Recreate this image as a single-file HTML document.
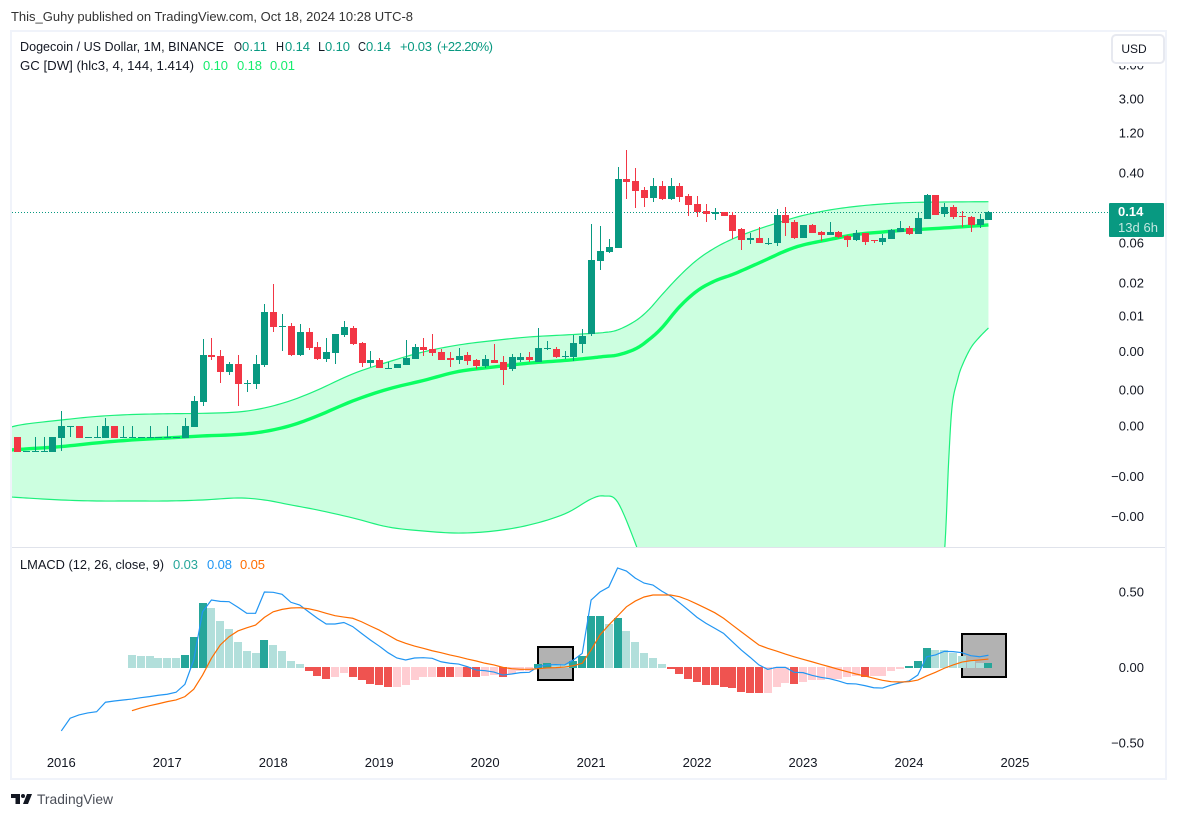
<!DOCTYPE html>
<html lang="en">
<head>
<meta charset="utf-8">
<title>Dogecoin / US Dollar chart</title>
<style>
html,body{margin:0;padding:0;background:#fff;width:1178px;height:818px;overflow:hidden}
svg{display:block}
text{font-family:"Liberation Sans","DejaVu Sans",sans-serif;font-size:13px;fill:#131722}
</style>
</head>
<body>
<svg id="chart" width="1178" height="818" viewBox="0 0 1178 818" xmlns="http://www.w3.org/2000/svg">
  <defs>
    <clipPath id="main-clip"><rect x="12" y="32" width="1153" height="515"/></clipPath>
    <clipPath id="macd-clip"><rect x="12" y="548" width="1153" height="205"/></clipPath>
  </defs>
  <rect x="0" y="0" width="1178" height="818" fill="#ffffff"/>
  <text x="11" y="21" textLength="402" lengthAdjust="spacingAndGlyphs" fill="#333333" style="fill:#333">This_Guhy published on TradingView.com, Oct 18, 2024 10:28 UTC-8</text>

  <g id="main-layer" clip-path="url(#main-clip)"></g>
  <g id="macd-layer" clip-path="url(#macd-clip)"></g>
  <line x1="12" y1="547.5" x2="1165" y2="547.5" stroke="#e0e3eb" stroke-width="1"/>
  <g id="axis-layer"></g>

  <rect x="11" y="31" width="1155" height="748" fill="none" stroke="#f0f3fa" stroke-width="2"/>

  <g>
    <text x="20" y="51" textLength="204" lengthAdjust="spacingAndGlyphs">Dogecoin / US Dollar, 1M, BINANCE</text>
    <text x="234" y="51" textLength="8" lengthAdjust="spacingAndGlyphs">O</text>
    <text x="242" y="51" textLength="25" style="fill:#089981">0.11</text>
    <text x="276" y="51" textLength="8" lengthAdjust="spacingAndGlyphs">H</text>
    <text x="285" y="51" textLength="25" style="fill:#089981">0.14</text>
    <text x="318" y="51" textLength="7" lengthAdjust="spacingAndGlyphs">L</text>
    <text x="325" y="51" textLength="25" style="fill:#089981">0.10</text>
    <text x="358" y="51" textLength="8" lengthAdjust="spacingAndGlyphs">C</text>
    <text x="366" y="51" textLength="25" style="fill:#089981">0.14</text>
    <text x="400" y="51" textLength="32" style="fill:#089981">+0.03</text>
    <text x="437" y="51" textLength="56" style="fill:#089981">(+22.20%)</text>
    <text x="20" y="70" textLength="174" lengthAdjust="spacingAndGlyphs">GC [DW] (hlc3, 4, 144, 1.414)</text>
    <text x="203" y="70" textLength="25" style="fill:#14ec6c">0.10</text>
    <text x="237" y="70" textLength="25" style="fill:#14ec6c">0.18</text>
    <text x="270" y="70" textLength="25" style="fill:#14ec6c">0.01</text>
  </g>
  <g>
    <text x="20" y="569" textLength="144" lengthAdjust="spacingAndGlyphs">LMACD (12, 26, close, 9)</text>
    <text x="173" y="569" textLength="25" style="fill:#26a69a">0.03</text>
    <text x="207" y="569" textLength="25" style="fill:#2196f3">0.08</text>
    <text x="240" y="569" textLength="25" style="fill:#ff6d00">0.05</text>
  </g>

  <g>
    <rect x="1111" y="33" width="54" height="33" fill="#ffffff"/>
    <rect x="1112" y="35" width="52" height="28" rx="4" fill="#ffffff" stroke="#e7e9f0" stroke-width="2"/>
    <text x="1134" y="53" text-anchor="middle" font-size="12" style="font-size:12px">USD</text>
  </g>

  <g>
    <rect x="1109" y="203" width="55" height="34" rx="1" fill="#089981"/>
    <text x="1118" y="216" font-weight="bold" style="fill:#ffffff;font-weight:bold">0.14</text>
    <text x="1118" y="232" textLength="40" style="fill:#c5e8e2">13d 6h</text>
  </g>

  <g>
    <path d="M11 794h9v10h-4.500v-6h-4.500z" fill="#131722"/>
    <circle cx="23" cy="796" r="2" fill="#131722"/>
    <path d="M27 794h5l-4 10h-5z" fill="#131722"/>
    <text x="37" y="804" textLength="76" lengthAdjust="spacingAndGlyphs" style="font-size:14px;fill:#4a4e57">TradingView</text>
  </g>

<script>
// ---------- price chart data (monthly, USD) ----------
const candleFirstMonth = -5; // months relative to Jan 2016
const candleOpen = [.000310,.000212,.000212,.000212,.000206,.000302,.000418,.000418,.000310,.000310,.000302,.000418,.000310,.000310,.000310,.000310,.000310,.000310,.000310,.000302,.000407,.000803,.00288,.00281,.00182,.00225,.00135,.00131,.00219,.00926,.00633,.00633,.00288,.00538,.00358,.00258,.00304,.00496,.00600,.00399,.00231,.00251,.00202,.00202,.00219,.00258,.00358,.00339,.00313,.00266,.00251,.00288,.00251,.00213,.00251,.00238,.00197,.00251,.00273,.00238,.00349,.00339,.00281,.00273,.00388,.00510,.0371,.0473,.0527,.3437,.3255,.2550,.2053,.2843,.1997,.2843,.2168,.1743,.1441,.1329,.1403,.1293,.0883,.0655,.0692,.0604,.0604,.1293,.1068,.0692,.0985,.0814,.0751,.0814,.0731,.0655,.0793,.0655,.0620,.0673,.0814,.0908,.0771,.1160,.2226,.1329,.1607,.1259,.1225,.0985,.1128];
const candleHigh = [.000310,.000212,.000310,.000310,.000310,.000629,.000418,.000418,.000310,.000418,.000520,.000418,.000418,.000418,.000310,.000418,.000310,.000418,.000310,.000520,.000944,.00445,.00457,.00330,.00238,.00288,.00146,.00288,.01152,.0198,.00877,.00687,.00668,.00600,.00410,.00457,.00510,.00725,.00633,.00410,.00321,.00266,.00238,.00225,.00433,.00388,.00457,.00510,.00339,.00313,.00349,.00313,.00258,.00288,.00388,.00281,.00296,.00304,.00313,.00600,.00421,.00358,.00321,.00496,.00583,.1012,.0959,.0673,.4763,.7559,.4637,.2766,.3534,.3255,.3534,.3084,.2287,.2168,.1743,.1564,.1403,.1403,.0908,.0793,.0933,.0692,.1521,.1607,.1128,.0985,.1012,.0837,.1068,.0837,.0751,.0860,.0793,.0655,.0771,.0883,.1098,.0959,.1403,.2287,.2226,.1791,.1696,.1441,.1259,.1329,.1441];
const candleLow = [.000206,.000206,.000206,.000206,.000206,.000212,.000310,.000302,.000302,.000310,.000302,.000302,.000310,.000310,.000310,.000310,.000310,.000310,.000310,.000302,.000407,.000721,.00251,.00135,.00168,.000721,.00105,.00114,.00208,.00538,.00321,.00281,.00281,.00330,.00251,.00238,.00225,.00470,.00378,.00208,.00208,.00202,.00197,.00202,.00219,.00258,.00281,.00281,.00251,.00208,.00225,.00219,.00197,.00202,.00231,.00127,.00187,.00238,.00238,.00238,.00330,.00266,.00258,.00244,.00304,.00483,.0290,.0460,.0527,.1997,.1564,.1607,.1840,.1943,.1943,.1840,.1259,.1225,.1068,.1128,.1259,.0673,.0499,.0587,.0604,.0572,.0557,.0731,.0673,.0692,.0793,.0637,.0751,.0692,.0542,.0637,.0572,.0604,.0572,.0673,.0814,.0751,.0771,.1160,.1293,.1225,.1160,.0933,.0814,.0908,.1128];
const candleClose = [.000206,.000212,.000212,.000212,.000310,.000418,.000418,.000302,.000310,.000310,.000418,.000302,.000310,.000310,.000310,.000310,.000310,.000310,.000310,.000418,.000825,.00288,.00273,.00182,.00225,.00131,.00135,.00225,.00926,.00616,.00633,.00288,.00538,.00349,.00258,.00313,.00510,.00616,.00388,.00231,.00251,.00202,.00202,.00225,.00266,.00358,.00330,.00304,.00251,.00251,.00281,.00244,.00213,.00258,.00231,.00192,.00273,.00273,.00251,.00349,.00349,.00273,.00281,.00399,.00483,.0381,.0486,.0542,.3437,.3168,.2482,.2053,.2843,.1997,.2843,.2109,.1696,.1403,.1329,.1403,.1259,.0837,.0655,.0692,.0604,.0604,.1293,.1040,.0692,.0985,.0793,.0751,.0814,.0711,.0655,.0793,.0620,.0637,.0692,.0860,.0908,.0771,.1192,.2226,.1293,.1607,.1225,.1250,.0985,.1160,.1403];
const lastPrice = 0.14;

// Gaussian channel readings at sampled months
const bandMonths = [-5.7,-4,0,4,8,12,16,20,23,26,29,33,37,41,45,49,53,57,60,61.5,63,65,66.5,68,70,72,74,76,78,80,82,84,87,90,93,96,100,105];
const bandBasis = [.000218,.000224,.000239,.000264,.000286,.000302,.000319,.000332,.000360,.000424,.000549,.000825,.00114,.00144,.00184,.00208,.00231,.00248,.00266,.00277,.00288,.00339,.00433,.00600,.01062,.0164,.0215,.0256,.0315,.0391,.0486,.0572,.0664,.0761,.0814,.0860,.0908,.0985];
const bandUpper = [.000407,.000441,.000492,.000542,.000571,.000583,.000590,.000612,.000683,.000835,.00111,.00172,.00238,.00313,.00378,.00427,.00470,.00496,.00517,.00531,.00568,.00725,.00978,.0147,.0246,.0381,.0527,.0673,.0814,.0959,.1113,.1276,.1481,.1634,.1743,.1813,.1840,.1855];
const lowerMonths = [-5.7,-4,0,4,8,12,16,20,23,26,29,33,37,41,45,49,53,57,60,61.5,63,65,66,70,92,99,100,100.5,100.9,101.5,102,103,104,105];
const bandLower = [6.07e-5,5.91e-5,5.60e-5,5.45e-5,5.45e-5,5.45e-5,5.60e-5,5.91e-5,5.60e-5,4.89e-5,4.27e-5,3.44e-5,2.69e-5,2.41e-5,2.28e-5,2.41e-5,2.84e-5,3.83e-5,5.75e-5,6.24e-5,5.30e-5,1.74e-5,8.4e-6,1.25e-6,1.25e-6,1.25e-6,1.26e-5,1.66e-4,7.4e-4,.00146,.00213,.00349,.00470,.00600];

// Price axis
const priceTickValues = [7.6,3.02,1.2,.404,.0605,.0204,.0083,.00318,.00111,.000418,.000106,.0000358];
const priceTickLabels = ["8.00","3.00","1.20","0.40","0.06","0.02","0.01","0.00","0.00","0.00","\u22120.00","\u22120.00"];

// ---------- LMACD data ----------
const histFirstMonth = 8;
const histValues = [.086,.073,.073,.066,.060,.060,.086,.205,.424,.397,.311,.252,.172,.106,.093,.185,.146,.106,.046,.026,-.026,-.053,-.073,-.060,-.036,-.060,-.086,-.106,-.119,-.132,-.126,-.113,-.086,-.066,-.060,-.061,-.063,-.060,-.062,-.066,-.053,-.050,-.060,-.040,-.026,-.025,.020,.033,.026,.026,.046,.073,.338,.344,.291,.325,.245,.172,.099,.060,.020,-.012,-.040,-.073,-.093,-.113,-.119,-.126,-.139,-.159,-.166,-.172,-.172,-.126,-.104,-.106,-.093,-.086,-.080,-.073,-.073,-.066,-.059,-.060,-.058,-.053,-.026,-.007,.013,.046,.132,.119,.119,.093,.073,.040,.032,.033];
const macdFirstMonth = 0;
const macdValues = [-.420,-.336,-.314,-.301,-.293,-.230,-.222,-.215,-.209,-.200,-.193,-.184,-.177,-.164,-.111,.050,.369,.447,.438,.436,.399,.359,.359,.500,.498,.485,.432,.414,.369,.326,.288,.288,.298,.271,.226,.182,.142,.098,.063,.050,.063,.065,.061,.038,.028,.023,.005,-.017,-.021,-.030,-.050,-.043,-.034,-.032,.005,.017,.019,.017,.050,.094,.447,.500,.533,.659,.639,.592,.559,.546,.506,.473,.429,.381,.332,.293,.260,.226,.171,.116,.068,.017,-.012,.001,.001,-.032,-.034,-.052,-.065,-.074,-.089,-.107,-.109,-.120,-.134,-.136,-.116,-.101,-.089,-.050,.071,.083,.107,.105,.098,.078,.071,.081];
const signalFirstMonth = 8;
const signalValues = [-.286,-.268,-.253,-.240,-.226,-.215,-.193,-.144,-.050,.061,.149,.204,.242,.263,.281,.332,.369,.385,.394,.396,.389,.376,.359,.343,.334,.326,.303,.275,.248,.215,.182,.160,.142,.127,.111,.098,.083,.071,.056,.043,.028,.017,.001,-.008,-.012,-.012,-.008,-.003,-.001,.003,.012,.028,.116,.215,.281,.341,.402,.440,.467,.480,.480,.480,.469,.447,.420,.392,.363,.326,.281,.237,.193,.149,.127,.109,.089,.071,.054,.038,.021,.005,-.012,-.028,-.043,-.056,-.071,-.085,-.094,-.096,-.094,-.083,-.056,-.032,-.005,.017,.036,.045,.050,.056];
const macdTickValues = [.5,0,-.5];
const macdTickLabels = ["0.50","0.00","\u22120.50"];
const boxMonthStart = [54,102];
const boxMonthEnd = [58,107];
const boxValueTop = [.136,.222];
const boxValueBottom = [-.083,-.063];

// Time axis
const yearLabels = ["2016","2017","2018","2019","2020","2021","2022","2023","2024","2025"];

// ---------- axis functions ----------
const xAt = m => 61.3 + 8.83 * m;
const yPrice = p => 139.7 - 36.8 * Math.log(p);
const yMacd = v => 667.5 - 151 * v;

const NS = "http://www.w3.org/2000/svg";
const mainLayer = document.getElementById("main-layer");
const macdLayer = document.getElementById("macd-layer");
const axisLayer = document.getElementById("axis-layer");
function make(tag, parent, attrs) {
  const el = document.createElementNS(NS, tag);
  for (const k in attrs) el.setAttribute(k, attrs[k]);
  parent.appendChild(el);
  return el;
}
// Catmull-Rom sampled curve through readings
function curve(xs, ys) {
  const pts = [];
  for (let i = 0; i < xs.length - 1; i++) {
    const x0 = xs[Math.max(i - 1, 0)], x1 = xs[i], x2 = xs[i + 1], x3 = xs[Math.min(i + 2, xs.length - 1)];
    const y0 = ys[Math.max(i - 1, 0)], y1 = ys[i], y2 = ys[i + 1], y3 = ys[Math.min(i + 2, ys.length - 1)];
    for (let s = 0; s < 8; s++) {
      const t = s / 8, t2 = t * t, t3 = t2 * t;
      const cr = (a, b, c, d) => 0.5 * (2 * b + (c - a) * t + (2 * a - 5 * b + 4 * c - d) * t2 + (3 * b - a - 3 * c + d) * t3);
      pts.push([cr(x0, x1, x2, x3), cr(y0, y1, y2, y3)]);
    }
  }
  pts.push([xs[xs.length - 1], ys[ys.length - 1]]);
  return pts;
}
const ptStr = pts => pts.map(p => p[0].toFixed(2) + "," + p[1].toFixed(2)).join(" ");

// ---------- channel ----------
const upperPts = curve(bandMonths.map(xAt), bandUpper.map(yPrice));
const basisPts = curve(bandMonths.map(xAt), bandBasis.map(yPrice));
const lowerPts = curve(lowerMonths.map(xAt), bandLower.map(yPrice));

const bandFill = make("polygon", mainLayer, {points: ptStr(upperPts.concat(lowerPts.slice().reverse())), fill: "#ccffe0", stroke: "none"});



const upperLine = make("polyline", mainLayer, {points: ptStr(upperPts), fill: "none", stroke: "#1cf07c", "stroke-width": 1.2});



const lowerLine = make("polyline", mainLayer, {points: ptStr(lowerPts), fill: "none", stroke: "#1cf07c", "stroke-width": 1.2});



const basisLine = make("polyline", mainLayer, {points: ptStr(basisPts), fill: "none", stroke: "#0aff62", "stroke-width": 3.4});



// ---------- last price line ----------
const lastY = Math.round(yPrice(lastPrice)) + 0.5;
const lastLine = make("line", mainLayer, {x1: 12, x2: 1108, y1: lastY, y2: lastY, stroke: "#089981", "stroke-width": 1, "stroke-dasharray": "1 2"});



// ---------- candles ----------
candleOpen.forEach((open, i) => {
  const m = candleFirstMonth + i;
  const close = candleClose[i];
  const cx = Math.round(xAt(m));
  const up = close >= open;
  const color = up ? "#089981" : "#f23645";
  const hiY = Math.round(yPrice(candleHigh[i]));
  const loY = Math.round(yPrice(candleLow[i]));
  const topY = Math.round(yPrice(Math.max(open, close)));
  const botY = Math.round(yPrice(Math.min(open, close)));
  const wick = make("rect", mainLayer, {x: cx, y: hiY, width: 1, height: Math.max(loY - hiY, 1), fill: color});
  
  
  const body = make("rect", mainLayer, {x: cx - 3, y: topY, width: 7, height: Math.max(botY - topY, 1), fill: color});
  
  
});

// ---------- annotation boxes (under series) ----------
boxMonthStart.forEach((m, i) => {
  const x0 = Math.round(xAt(m)), x1 = Math.round(xAt(boxMonthEnd[i]));
  const y0 = Math.round(yMacd(boxValueTop[i])), y1 = Math.round(yMacd(boxValueBottom[i]));
  const box = make("rect", macdLayer, {x: x0, y: y0, width: x1 - x0, height: y1 - y0, fill: "#b2b2b2", stroke: "#000000", "stroke-width": 2});
  
  
});

// ---------- histogram ----------
histValues.forEach((v, i) => {
  const prev = histValues[i - 1];
  const strong = v >= 0 ? v > prev : v < prev;
  const color = v >= 0 ? (strong ? "#26a69a" : "#b2dfdb") : (strong ? "#ef5350" : "#ffcdd2");
  const cx = Math.round(xAt(histFirstMonth + i));
  const end = Math.round(yMacd(v));
  const top = v >= 0 ? end : 667;
  const bottom = v >= 0 ? 668 : end;
  const bar = make("rect", macdLayer, {x: cx - 4, y: top, width: 8, height: Math.max(bottom - top, 1), fill: color});
  
  
});

// ---------- MACD lines ----------
const macdLine = make("polyline", macdLayer, {points: macdValues.map((v, i) => xAt(macdFirstMonth + i).toFixed(2) + "," + yMacd(v).toFixed(2)).join(" "), fill: "none", stroke: "#2196f3", "stroke-width": 1.2});



const signalLine = make("polyline", macdLayer, {points: signalValues.map((v, i) => xAt(signalFirstMonth + i).toFixed(2) + "," + yMacd(v).toFixed(2)).join(" "), fill: "none", stroke: "#ff6d00", "stroke-width": 1.2});



// ---------- axes ----------
priceTickValues.forEach((v, i) => {
  const t = make("text", axisLayer, {x: 1144, y: yPrice(v) + 4.5, "text-anchor": "end"});
  t.textContent = priceTickLabels[i];
  
  
});
macdTickValues.forEach((v, i) => {
  const t = make("text", axisLayer, {x: 1144, y: yMacd(v) + 4.5, "text-anchor": "end"});
  t.textContent = macdTickLabels[i];
  
  
});
yearLabels.forEach((label, i) => {
  const t = make("text", axisLayer, {x: xAt(12 * i), y: 767, "text-anchor": "middle"});
  t.textContent = label;
  
  
});
</script>
</svg>
</body>
</html>
